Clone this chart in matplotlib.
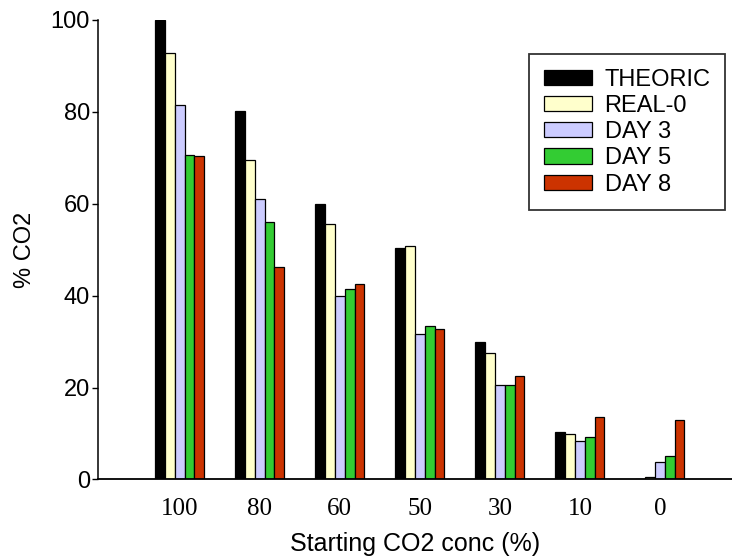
import numpy as np
import matplotlib.pyplot as plt

# Starting CO2 concentrations (%) and measured CO2 per series
conc_labels = ['100', '80', '60', '50', '30', '10', '0']
theoric = [100, 80.2, 60, 50.3, 30, 10.3, 0]
real_0 = [92.8, 69.6, 55.7, 50.9, 27.5, 9.8, 0.5]
day_3 = [81.5, 61, 40, 31.7, 20.5, 8.3, 3.9]
day_5 = [70.7, 56.1, 41.5, 33.5, 20.5, 9.3, 5.2]
day_8 = [70.3, 46.2, 42.5, 32.8, 22.6, 13.6, 12.9]

series = [
    ('THEORIC', theoric, '#000000'),
    ('REAL-0', real_0, '#FFFFCC'),
    ('DAY 3', day_3, '#CCCCFF'),
    ('DAY 5', day_5, '#33CC33'),
    ('DAY 8', day_8, '#CC3300'),
]

sans = ['Liberation Sans', 'DejaVu Sans']
serif = ['Liberation Serif', 'DejaVu Serif']

fig = plt.figure(figsize=(7.32, 5.58), dpi=100)
ax = fig.add_axes([0.134, 0.1407, 0.866, 0.8235])

ind = np.arange(len(conc_labels))
width = 0.1225
for k, (name, vals, color) in enumerate(series):
    ax.bar(ind + (k - 2) * width, vals, width, color=color,
           edgecolor='black', linewidth=0.9, label=name)

ax.set_xlim(-1.02, 6.9)
ax.set_ylim(0, 100)

ax.spines['top'].set_visible(False)
ax.spines['right'].set_visible(False)
ax.spines['left'].set_linewidth(1.1)
ax.spines['bottom'].set_linewidth(1.3)

ax.set_yticks([0, 20, 40, 60, 80, 100])
ax.tick_params(axis='y', direction='out', length=4, width=1, pad=2, labelsize=17)
for t in ax.get_yticklabels():
    t.set_family(sans)

ax.set_xticks(ind)
ax.set_xticklabels(conc_labels, family=serif, fontsize=18)
ax.tick_params(axis='x', length=0, pad=13)

ax.set_ylabel('% CO2', family=sans, fontsize=17, labelpad=10)
ax.set_xlabel('Starting CO2 conc (%)', family=sans, fontsize=18, labelpad=9)

leg = ax.legend(loc='upper right', bbox_to_anchor=(0.9885, 0.925),
                prop={'family': sans, 'size': 17}, frameon=True, fancybox=False,
                edgecolor='black', handlelength=2.03, handleheight=0.62,
                handletextpad=0.55, labelspacing=0.18, borderpad=0.6,
                borderaxespad=0)
leg.get_frame().set_linewidth(1.3)

plt.savefig('out.png', dpi=100)
